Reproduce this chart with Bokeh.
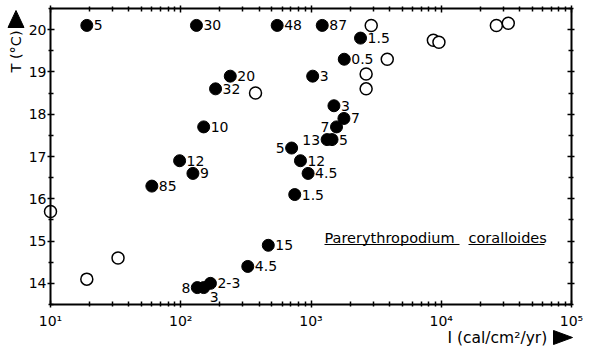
import numpy as np
from bokeh.plotting import figure
from bokeh.models import (Range1d, LogAxis, LinearAxis, FixedTicker, Label,
                          ColumnDataSource, CustomJSTickFormatter)
from bokeh.core.properties import value
from bokeh.embed import file_html
from bokeh.resources import INLINE

# ---- data ----
fill_x = [19, 132, 550, 1220, 2400, 1800, 1030, 240, 185, 150, 1500, 1790, 1570,
          1330, 1450, 710, 98, 830, 124, 950, 60, 750, 470, 327, 134, 150, 169]
fill_y = [20.1, 20.1, 20.1, 20.1, 19.8, 19.3, 18.9, 18.9, 18.6, 17.7, 18.2, 17.9, 17.7,
          17.4, 17.4, 17.2, 16.9, 16.9, 16.6, 16.6, 16.3, 16.1, 14.9, 14.4, 13.9, 13.9, 14.0]
fill_lab = ["5", "30", "48", "87", "1.5", "0.5", "3", "20", "32", "10", "3", "7", "7",
            "13", "5", "5", "12", "12", "9", "4.5", "85", "1.5", "15", "4.5", "8", "3", "2-3"]
lab_side = ["r", "r", "r", "r", "r", "r", "r", "r", "r", "r", "r", "r", "l",
            "l", "r", "l", "r", "r", "r", "r", "r", "r", "r", "r", "l", "b", "r"]

open_x = [10, 19, 33, 375, 2900, 3850, 2650, 2650, 8700, 9600, 26500, 32700]
open_y = [15.7, 14.1, 14.6, 18.5, 20.1, 19.3, 18.95, 18.6, 19.75, 19.7, 20.1, 20.15]

x_major = [10, 100, 1000, 10000, 100000]
y_major = [14, 15, 16, 17, 18, 19, 20]

species = ["Parerythropodium", "coralloides"]
x_title = "I (cal/cm²/yr)"
y_title = "T (°C)"

# ---- layout: the frame fills the canvas, axes are drawn at fixed locations ----
W, H = 596, 353
FL, FR, FT, FB = 50, 25, 8, 49          # where the drawn box sits on the canvas
X0, X1 = 10, 1e5
Y0, Y1 = 13.5, 20.5
FONT = "DejaVu Sans"

ppd = (W - FL - FR) / (np.log10(X1) - np.log10(X0))
ppu = (H - FT - FB) / (Y1 - Y0)
XR0 = 10 ** (np.log10(X0) - FL / ppd)
XR1 = 10 ** (np.log10(X1) + FR / ppd)
YR0 = Y0 - FB / ppu
YR1 = Y1 + FT / ppu


def px2x(px):
    return 10 ** (np.log10(X0) + (px - FL) / ppd)


def py2y(py):
    return Y1 - (py - FT) / ppu


p = figure(width=W, height=H, x_axis_type="log", output_backend="svg",
           toolbar_location=None, x_range=Range1d(XR0, XR1), y_range=Range1d(YR0, YR1),
           x_axis_location=None, y_axis_location=None,
           min_border_left=0, min_border_right=0, min_border_top=0, min_border_bottom=0)
p.xgrid.visible = False
p.ygrid.visible = False
p.outline_line_color = None
p.background_fill_color = "white"

x_minor = [k * 10 ** d for d in range(1, 5) for k in range(2, 10)]
y_minor = [v + 0.5 for v in [13] + y_major]

fmt = CustomJSTickFormatter(code="""
const sup = {1:'\u00b9',2:'\u00b2',3:'\u00b3',4:'\u2074',5:'\u2075'};
const e = Math.round(Math.log10(tick));
return '10' + sup[e];
""")


def style(ax, labels=True):
    ax.axis_line_color = "black"
    ax.axis_line_width = 2
    ax.major_tick_line_color = "black"
    ax.minor_tick_line_color = "black"
    ax.major_tick_line_width = 1.5
    ax.minor_tick_line_width = 1.5
    ax.major_tick_in = 4
    ax.major_tick_out = 3
    ax.minor_tick_in = 3
    ax.minor_tick_out = 2
    ax.major_label_text_font = FONT
    if labels:
        ax.major_label_text_font_size = "14px"
        ax.major_label_text_color = "black"
    else:
        ax.major_label_text_font_size = "1px"
        ax.major_label_text_color = None
        ax.major_label_standoff = 0


bottom = LogAxis(ticker=FixedTicker(ticks=x_major, minor_ticks=x_minor), formatter=fmt,
                 fixed_location=Y0, bounds=(X0, X1), major_label_standoff=5)
style(bottom)
p.add_layout(bottom, "below")

left = LinearAxis(ticker=FixedTicker(ticks=y_major, minor_ticks=y_minor),
                  fixed_location=X0, bounds=(Y0, Y1), major_label_standoff=1)
style(left)
p.add_layout(left, "left")

top = LogAxis(ticker=FixedTicker(ticks=x_major, minor_ticks=x_minor),
              fixed_location=Y1, bounds=(X0, X1))
style(top, labels=False)
p.add_layout(top, "above")

right = LinearAxis(ticker=FixedTicker(ticks=y_major, minor_ticks=y_minor),
                   fixed_location=X1, bounds=(Y0, Y1))
style(right, labels=False)
p.add_layout(right, "right")

# ---- points ----
p.scatter(open_x, open_y, marker="circle", size=12, fill_color="white",
          line_color="black", line_width=1.5)
p.scatter(fill_x, fill_y, marker="circle", size=12, fill_color="black",
          line_color="black")

xo = {"r": 7, "l": -7, "b": 6}
yo = {"r": 0, "l": 0, "b": 9}
al = {"r": "left", "l": "right", "b": "left"}
src = ColumnDataSource(dict(
    x=fill_x, y=fill_y, t=fill_lab,
    xo=[xo[s] for s in lab_side], yo=[yo[s] for s in lab_side],
    al=[al[s] for s in lab_side]))
p.text(x="x", y="y", text="t", x_offset="xo", y_offset="yo", text_align="al",
       text_baseline="middle", text_font=value(FONT), text_font_size="14px",
       text_color="black", source=src)

# ---- species annotation (underlined words) ----
word_left = [324, 468]
word_right = [459, 544]
for w, l, r in zip(species, word_left, word_right):
    p.add_layout(Label(x=px2x(l), y=py2y(237), text=w, text_font=FONT, text_color="black",
                       text_font_size="14.5px", text_baseline="middle", text_align="left"))
p.segment(x0=[px2x(l) for l in word_left], y0=[py2y(244)] * 2,
          x1=[px2x(r) for r in word_right], y1=[py2y(244)] * 2,
          line_color="black", line_width=1)

# ---- axis titles with arrow heads ----
p.add_layout(Label(x=px2x(447), y=py2y(337), text=x_title, text_font=FONT,
                   text_color="black", text_font_size="15.5px",
                   text_baseline="middle", text_align="left"))
p.add_layout(Label(x=px2x(15), y=py2y(51), text=y_title, text_font=FONT, angle=np.pi / 2,
                   text_color="black", text_font_size="14.5px",
                   text_baseline="middle", text_align="center"))
arrow_xs = [[px2x(v) for v in (553, 553, 572)], [px2x(v) for v in (7.5, 23.5, 15.5)]]
arrow_ys = [[py2y(v) for v in (330, 344, 337)], [py2y(v) for v in (27, 27, 10)]]
p.patches(arrow_xs, arrow_ys, fill_color="black", line_color="black", line_width=1)

open("out.html", "w").write(file_html(p, INLINE))
